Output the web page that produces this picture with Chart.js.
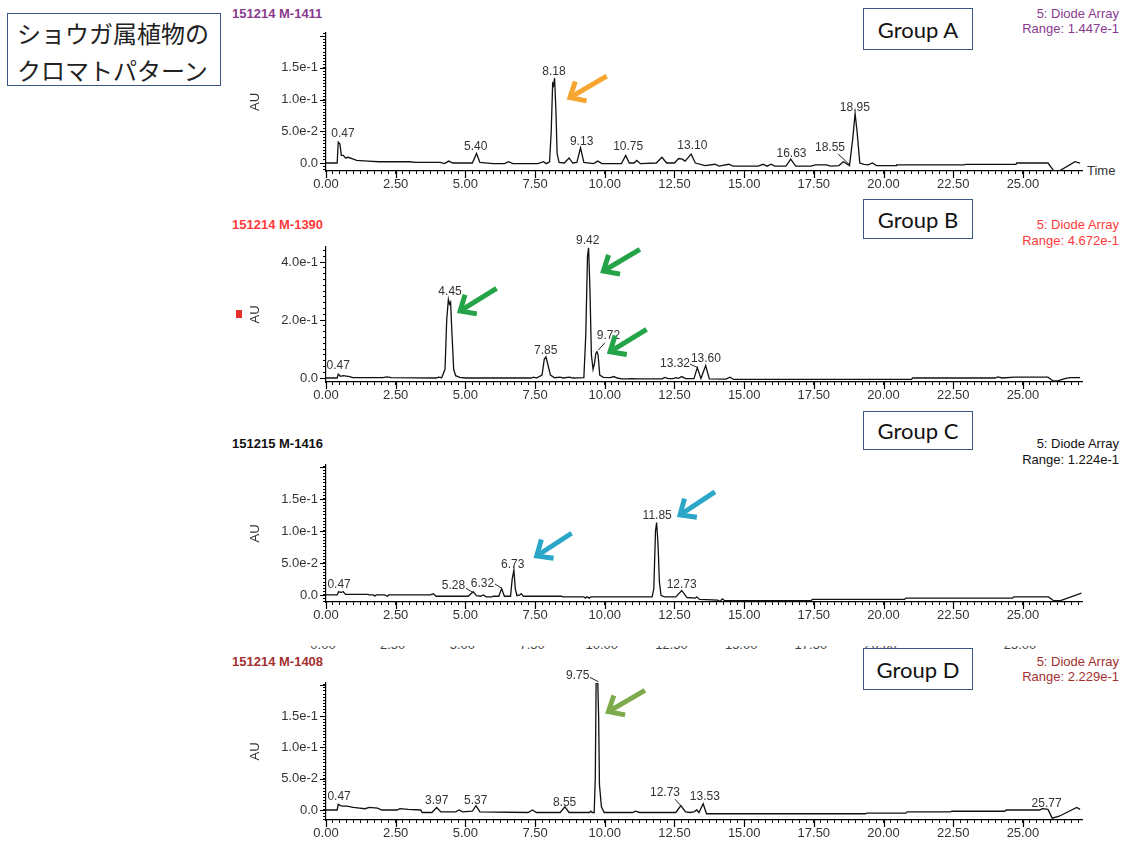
<!DOCTYPE html>
<html>
<head>
<meta charset="utf-8">
<script src="https://cdn.jsdelivr.net/npm/chart.js@4.4.1/dist/chart.umd.min.js"></script>
<style>
  body { margin: 0; width: 1127px; height: 841px; background: #fff; position: relative; overflow: hidden;
         font-family: "Liberation Sans", Arial, sans-serif; }
  canvas { position: absolute; left: 236px; }
  .hdr { position: absolute; height: 16px; line-height: 16px; font-size: 13px; white-space: nowrap; }
  .hdr.left { left: 232px; font-weight: bold; }
  .hdr.right { right: 8px; text-align: right; }
  .group { position: absolute; left: 863px; width: 108px; border: 1.5px solid #3a5785; background: #fff;
           display: flex; align-items: center; justify-content: center;
           font-family: Lato, "Open Sans", sans-serif; font-size: 22px; color: #111; }
  .title { position: absolute; left: 7px; top: 13px; width: 214px; height: 73px; border: 1.5px solid #3a5785;
           font-family: "Noto Sans CJK JP", sans-serif; font-size: 24px; line-height: 37px; color: #222;
           padding-left: 9px; box-sizing: border-box; }
  .ghost { position: absolute; left: 0; top: 646px; width: 1127px; height: 3px; overflow: hidden; }
  .ghost span { position: absolute; top: -9px; font-size: 13px; color: #444; transform: translateX(-50%); }
</style>
</head>
<body>

<div class="title">ショウガ属植物の<br>クロマトパターン</div>

<div class="hdr left" style="top:6px;color:#8a3a8e">151214 M-1411</div>
<div class="hdr right" style="top:6px;color:#8a3a8e">5: Diode Array</div>
<div class="hdr right" style="top:21px;color:#8a3a8e">Range: 1.447e-1</div>
<div class="group" style="top:8px;height:40px">Group A</div>
<div class="hdr" style="left:1087px;top:163px;color:#333">Time</div>

<div class="hdr left" style="top:217px;color:#ff3a3a">151214 M-1390</div>
<div class="hdr right" style="top:217px;color:#ff3a3a">5: Diode Array</div>
<div class="hdr right" style="top:233px;color:#ff3a3a">Range: 4.672e-1</div>
<div class="group" style="top:199px;height:38px">Group B</div>
<div style="position:absolute;left:236px;top:310px;width:6px;height:8px;background:#e8302a"></div>

<div class="hdr left" style="top:436px;color:#111">151215 M-1416</div>
<div class="hdr right" style="top:436px;color:#111">5: Diode Array</div>
<div class="hdr right" style="top:452px;color:#111">Range: 1.224e-1</div>
<div class="group" style="top:411px;height:37px">Group C</div>

<div class="ghost" id="ghost"></div>

<div class="hdr left" style="top:654px;color:#a33030">151214 M-1408</div>
<div class="hdr right" style="top:654px;color:#a33030">5: Diode Array</div>
<div class="hdr right" style="top:669px;color:#a33030">Range: 2.229e-1</div>

<canvas id="chartA" width="854" height="182" style="top:13px"></canvas>
<canvas id="chartB" width="854" height="179" style="top:227px"></canvas>
<canvas id="chartC" width="854" height="181" style="top:445px"></canvas>
<canvas id="chartD" width="854" height="181" style="top:663px"></canvas>

<div class="group" style="top:648px;height:40px">Group D</div>

<script>
// Retention time axis (minutes)
const timeMax = 27.12;
const timeMajor = 2.5;
const timeStep = 0.25;
const timeLabelMax = 25;

// Group A trace: [time, AU]
const traceA = [
  [0.00, 0.000], [0.40, 0.000], [0.44, 0.033], [0.50, 0.030], [0.55, 0.012], [0.62, 0.012],
  [0.70, 0.008], [0.80, 0.009], [0.98, 0.006], [1.10, 0.004], [1.50, 0.003], [1.90, 0.002],
  [3.00, 0.002], [3.20, 0.001], [4.10, 0.001], [4.25, -0.001], [4.40, 0.003], [4.55, 0.000],
  [5.25, 0.000], [5.40, 0.015], [5.52, 0.001], [6.00, -0.001], [6.40, -0.001], [6.55, 0.002],
  [6.70, -0.001], [7.60, -0.001], [7.80, 0.002], [7.90, -0.001], [8.02, 0.002], [8.08, 0.050],
  [8.13, 0.125], [8.16, 0.122], [8.20, 0.134], [8.25, 0.080], [8.29, 0.015], [8.36, 0.001],
  [8.55, 0.000], [8.72, 0.008], [8.85, 0.000], [9.00, 0.001], [9.13, 0.024], [9.25, 0.001],
  [9.60, -0.001], [9.75, 0.003], [9.90, -0.001], [10.60, -0.001], [10.75, 0.012], [10.88, 0.000],
  [11.05, 0.000], [11.15, 0.004], [11.28, -0.001], [11.85, 0.000], [12.05, 0.009], [12.22, 0.000],
  [12.50, 0.000], [12.65, 0.007], [12.78, 0.006], [12.88, 0.003], [13.10, 0.014], [13.25, 0.000],
  [13.60, -0.004], [13.95, -0.002], [14.10, -0.005], [14.45, -0.002], [14.60, -0.005],
  [15.50, -0.005], [15.68, -0.002], [15.82, -0.005], [15.97, -0.002], [16.10, -0.005],
  [16.50, -0.005], [16.67, 0.006], [16.85, -0.005], [17.40, -0.005], [17.55, -0.003],
  [17.95, -0.003], [18.10, -0.005], [18.40, -0.004], [18.56, 0.002], [18.78, -0.004],
  [18.90, 0.040], [18.98, 0.078], [19.05, 0.050], [19.15, 0.000], [19.30, -0.002], [19.45, -0.003],
  [19.60, 0.000], [19.75, -0.004], [20.45, -0.004], [20.47, -0.003], [22.90, -0.003], [22.93, -0.002],
  [24.75, -0.002], [24.78, 0.000], [25.90, 0.000], [26.10, -0.012], [26.33, -0.012], [26.87, 0.002],
  [27.05, 0.000]
];

// Group B trace
const traceB = [
  [0.00, 0.000], [0.40, 0.000], [0.44, 0.013], [0.52, 0.006], [0.62, 0.008], [0.85, 0.005],
  [0.95, 0.001], [2.05, 0.001], [2.18, 0.004], [2.35, 0.001], [3.95, 0.000], [4.03, 0.003],
  [4.15, 0.001], [4.27, 0.030], [4.33, 0.200], [4.39, 0.271], [4.43, 0.255], [4.47, 0.262],
  [4.52, 0.150], [4.58, 0.030], [4.65, 0.008], [4.80, 0.002], [5.00, 0.000], [7.35, 0.000],
  [7.45, 0.003], [7.55, 0.000], [7.75, 0.010], [7.83, 0.065], [7.89, 0.073], [7.95, 0.050],
  [8.05, 0.010], [8.20, 0.001], [8.40, 0.003], [8.50, 0.000], [8.74, 0.003], [8.85, 0.000],
  [9.25, 0.001], [9.32, 0.150], [9.38, 0.420], [9.42, 0.449], [9.47, 0.300], [9.52, 0.080],
  [9.58, 0.030], [9.63, 0.050], [9.68, 0.085], [9.72, 0.091], [9.76, 0.080], [9.82, 0.010],
  [9.95, 0.002], [10.20, 0.001], [10.32, 0.005], [10.45, 0.000], [10.60, -0.003], [10.80, -0.003],
  [10.95, -0.002], [11.20, -0.003], [12.05, -0.003], [12.16, 0.002], [12.28, -0.002], [12.45, -0.002],
  [12.55, 0.001], [12.65, -0.001], [12.76, 0.005], [12.90, -0.002], [13.20, -0.002], [13.32, 0.036],
  [13.45, -0.002], [13.62, 0.043], [13.75, -0.003], [14.35, -0.004], [14.49, 0.003], [14.62, -0.005],
  [21.00, -0.005], [21.05, 0.000], [24.00, 0.000], [24.10, 0.004], [24.25, 0.000], [24.70, 0.003],
  [25.90, 0.003], [26.08, -0.010], [26.25, -0.010], [26.50, -0.002], [26.70, 0.001], [27.05, 0.001]
];

// Group C trace
const traceC = [
  [0.00, 0.000], [0.40, 0.000], [0.45, 0.005], [0.55, 0.004], [0.62, 0.005], [0.70, 0.001],
  [1.50, 0.001], [1.55, 0.000], [1.70, 0.000], [1.75, -0.002], [1.80, 0.000], [2.10, 0.000],
  [2.20, -0.002], [2.25, 0.000], [3.75, 0.000], [3.85, 0.002], [3.95, -0.002], [5.10, -0.002],
  [5.28, 0.005], [5.40, -0.001], [5.55, -0.002], [5.64, 0.000], [5.75, -0.003], [5.95, -0.003],
  [6.00, -0.002], [6.20, -0.002], [6.30, 0.010], [6.40, -0.002], [6.62, -0.002], [6.68, 0.025],
  [6.74, 0.039], [6.79, 0.010], [6.85, -0.001], [6.95, 0.000], [7.00, 0.002], [7.08, -0.002],
  [8.45, -0.002], [8.50, -0.003], [9.25, -0.003], [9.30, -0.005], [9.35, -0.003], [9.45, -0.005],
  [9.50, -0.003], [11.70, -0.003], [11.76, 0.010], [11.82, 0.100], [11.86, 0.113], [11.91, 0.080],
  [11.96, 0.020], [12.02, -0.001], [12.15, -0.003], [12.55, -0.003], [12.76, 0.007], [12.95, -0.004],
  [13.25, -0.005], [13.30, -0.003], [13.40, -0.007], [14.05, -0.008], [14.13, -0.010], [14.22, -0.006],
  [14.30, -0.009], [17.40, -0.009], [17.45, -0.007], [20.75, -0.007], [20.80, -0.005], [24.63, -0.005],
  [24.67, -0.003], [25.92, -0.003], [26.10, -0.009], [26.35, -0.009], [27.10, 0.003]
];

// Group D trace
const traceD = [
  [0.00, 0.000], [0.40, 0.000], [0.44, 0.009], [0.52, 0.007], [0.60, 0.006], [0.75, 0.006],
  [0.98, 0.004], [1.20, 0.003], [1.40, 0.002], [1.55, 0.004], [1.85, 0.003], [2.00, 0.000],
  [2.55, 0.000], [2.65, 0.002], [2.95, 0.001], [3.40, 0.000], [3.45, -0.004], [3.80, -0.004],
  [3.97, 0.004], [4.12, -0.003], [4.65, -0.003], [4.78, 0.000], [4.90, -0.003], [5.25, -0.002],
  [5.38, 0.007], [5.52, -0.003], [7.25, -0.004], [7.41, 0.000], [7.55, -0.004], [8.40, -0.004],
  [8.57, 0.005], [8.72, -0.004], [9.45, -0.004], [9.50, -0.002], [9.55, -0.004], [9.62, -0.004],
  [9.66, 0.050], [9.69, 0.2025], [9.75, 0.2025], [9.78, 0.150], [9.81, 0.040], [9.88, 0.005],
  [9.98, -0.004], [11.00, -0.004], [11.10, -0.002], [11.25, -0.004], [12.55, -0.004], [12.73, 0.007],
  [12.90, -0.003], [13.05, -0.004], [13.20, -0.003], [13.30, 0.000], [13.38, -0.004], [13.53, 0.010],
  [13.65, -0.006], [19.35, -0.006], [19.40, -0.005], [20.80, -0.005], [20.85, -0.003], [22.40, -0.003],
  [22.45, -0.002], [24.35, -0.002], [24.40, 0.000], [25.60, 0.000], [25.70, 0.002], [25.90, 0.001],
  [26.05, -0.013], [26.30, -0.010], [26.93, 0.004], [27.05, 0.001]
];

// Peak labels: [text, time at label centre, AU at label centre]
const peaksA = [['0.47', 0.61, 0.047], ['5.40', 5.37, 0.025], ['8.18', 8.18, 0.1435], ['9.13', 9.17, 0.0336],
  ['10.75', 10.84, 0.0257], ['13.10', 13.14, 0.0268], ['16.63', 16.70, 0.0142], ['18.55', 18.08, 0.024],
  ['18.95', 18.97, 0.088]];
const peaksB = [['0.47', 0.44, 0.041], ['4.45', 4.45, 0.297], ['7.85', 7.88, 0.094], ['9.42', 9.39, 0.474],
  ['9.72', 10.13, 0.145], ['13.32', 12.52, 0.050], ['13.60', 13.63, 0.065]];
const peaksC = [['0.47', 0.47, 0.0167], ['5.28', 4.57, 0.0146], ['6.32', 5.61, 0.018], ['6.73', 6.70, 0.048],
  ['11.85', 11.88, 0.124], ['12.73', 12.76, 0.0167]];
const peaksD = [['0.47', 0.47, 0.0212], ['3.97', 3.97, 0.0144], ['5.37', 5.37, 0.0144], ['8.55', 8.56, 0.0117],
  ['9.75', 9.03, 0.2138], ['12.73', 12.16, 0.0277], ['13.53', 13.59, 0.0212], ['25.77', 25.85, 0.0107]];

// Leader lines from a label to its peak: [t1, au1, t2, au2]
const leadersA = [[18.37, 0.0142, 18.79, -0.003]];
const leadersB = [[10.01, 0.122, 9.77, 0.0966], [13.06, 0.048, 13.35, 0.035]];
const leadersC = [[5.02, 0.0105, 5.28, 0.0036], [6.06, 0.0172, 6.30, 0.0105]];
const leadersD = [[9.47, 0.2117, 9.77, 0.2047], [12.52, 0.0171, 12.76, 0.0053]];

// Highlight arrows: [tip time, tip AU, tail time, tail AU]
const arrowsA = [[8.75, 0.103, 10.07, 0.137]];
const arrowsB = [[4.81, 0.231, 6.12, 0.309], [9.95, 0.369, 11.26, 0.444], [10.19, 0.0907, 11.50, 0.168]];
const arrowsC = [[7.56, 0.061, 8.81, 0.0964], [12.70, 0.125, 13.95, 0.161]];
const arrowsD = [[10.13, 0.157, 11.44, 0.191]];

const tickFont = { family: '"Liberation Sans", Arial, sans-serif', size: 13 };
const isMultiple = (v, m) => Math.abs(v / m - Math.round(v / m)) < 1e-6;
const fmtAU = v => Math.abs(v) < 1e-9 ? '0.0' : v.toExponential(1);

// ghost row of clipped tick labels between C and D
(function () {
  const ghost = document.getElementById('ghost');
  for (let v = 0; v <= timeLabelMax + 1e-9; v += timeMajor) {
    if (v > 20 && v < 24) continue;
    const s = document.createElement('span');
    s.textContent = v.toFixed(2);
    s.style.left = (323 + v * 27.88) + 'px';
    ghost.appendChild(s);
  }
})();

// Draws major ticks, peak labels, leader lines and arrows
const decorPlugin = {
  id: 'decor',
  afterDraw(chart, args, opts) {
    const { ctx, chartArea: area } = chart;
    const x = chart.scales.x, y = chart.scales.y;
    ctx.save();
    ctx.strokeStyle = '#000';
    ctx.lineWidth = 1.2;
    ctx.beginPath();
    for (let v = 0; v <= timeMax + 1e-9; v += timeMajor) {
      const px = Math.round(x.getPixelForValue(v)) + 0.5;
      ctx.moveTo(px, area.bottom);
      ctx.lineTo(px, area.bottom + 7);
    }
    for (let v = 0; v <= y.max + 1e-9; v += opts.yMajor) {
      const py = Math.round(y.getPixelForValue(v)) + 0.5;
      ctx.moveTo(area.left - 6, py);
      ctx.lineTo(area.left, py);
    }
    ctx.stroke();

    ctx.fillStyle = '#333';
    ctx.font = '12px "Liberation Sans", Arial, sans-serif';
    ctx.textAlign = 'center';
    ctx.textBaseline = 'middle';
    opts.peaks.forEach(([text, t, au]) => {
      ctx.fillText(text, x.getPixelForValue(t), y.getPixelForValue(au));
    });

    ctx.lineWidth = 1;
    ctx.strokeStyle = '#222';
    opts.leaders.forEach(([t1, a1, t2, a2]) => {
      ctx.beginPath();
      ctx.moveTo(x.getPixelForValue(t1), y.getPixelForValue(a1));
      ctx.lineTo(x.getPixelForValue(t2), y.getPixelForValue(a2));
      ctx.stroke();
    });

    ctx.strokeStyle = opts.arrowColor;
    ctx.lineWidth = 5;
    ctx.lineJoin = 'miter';
    opts.arrows.forEach(([tt, ta, st, sa]) => {
      const tx = x.getPixelForValue(tt), ty = y.getPixelForValue(ta);
      const sx = x.getPixelForValue(st), sy = y.getPixelForValue(sa);
      const ang = Math.atan2(sy - ty, sx - tx);
      const len = 17, spread = 0.72;
      ctx.beginPath();
      ctx.moveTo(sx, sy);
      ctx.lineTo(tx + Math.cos(ang) * 3, ty + Math.sin(ang) * 3);
      ctx.stroke();
      ctx.beginPath();
      ctx.moveTo(tx + Math.cos(ang + spread) * len, ty + Math.sin(ang + spread) * len);
      ctx.lineTo(tx, ty);
      ctx.lineTo(tx + Math.cos(ang - spread) * len, ty + Math.sin(ang - spread) * len);
      ctx.stroke();
    });
    ctx.restore();
  }
};

function makePanel(id, trace, yMin, yMax, yStep, yMajor, yLabelMax, peaks, leaders, arrows, arrowColor) {
  return new Chart(document.getElementById(id), {
    type: 'line',
    data: {
      datasets: [{
        data: trace.map(([t, au]) => ({ x: t, y: au })),
        borderColor: '#111',
        borderWidth: 1.3,
        pointRadius: 0,
        tension: 0
      }]
    },
    options: {
      responsive: false,
      animation: false,
      devicePixelRatio: 1,
      layout: { padding: { top: 20, right: 8, left: 0, bottom: 0 } },
      plugins: {
        legend: { display: false },
        tooltip: { enabled: false },
        decor: { yMajor, peaks, leaders, arrows, arrowColor }
      },
      scales: {
        x: {
          type: 'linear',
          min: 0,
          max: timeMax,
          border: { display: true, color: '#000', width: 1.2 },
          grid: { display: true, drawOnChartArea: false, drawTicks: true, tickLength: 3, color: '#000', tickColor: '#000' },
          ticks: {
            stepSize: timeStep,
            includeBounds: false,
            autoSkip: false,
            maxRotation: 0,
            padding: 3,
            color: '#333',
            font: tickFont,
            callback: v => (isMultiple(v, timeMajor) && v <= timeLabelMax + 1e-6) ? v.toFixed(2) : ''
          },
          afterFit: s => { s.height = 24; }
        },
        y: {
          min: yMin,
          max: yMax,
          border: { display: true, color: '#000', width: 1.2 },
          grid: { display: true, drawOnChartArea: false, drawTicks: true, tickLength: 3, color: '#000', tickColor: '#000' },
          ticks: {
            stepSize: yStep,
            includeBounds: false,
            autoSkip: false,
            padding: 5,
            color: '#333',
            font: tickFont,
            callback: v => (isMultiple(v, yMajor) && v > -1e-9 && v <= yLabelMax + 1e-9) ? fmtAU(v) : ''
          },
          title: {
            display: true,
            text: 'AU',
            color: '#333',
            font: tickFont,
            padding: { top: 12, bottom: 0 }
          },
          afterFit: s => { s.width = 90; }
        }
      }
    },
    plugins: [decorPlugin]
  });
}

makePanel('chartA', traceA, -0.0126, 0.205, 0.005, 0.05, 0.15, peaksA, leadersA, arrowsA, '#f7a531');
makePanel('chartB', traceB, -0.0138, 0.452, 0.02, 0.2, 0.4, peaksB, leadersB, arrowsB, '#24a348');
makePanel('chartC', traceC, -0.011, 0.203, 0.005, 0.05, 0.15, peaksC, leadersC, arrowsC, '#2ba6c9');
makePanel('chartD', traceD, -0.016, 0.2027, 0.005, 0.05, 0.15, peaksD, leadersD, arrowsD, '#7dab4c');
</script>
</body>
</html>
